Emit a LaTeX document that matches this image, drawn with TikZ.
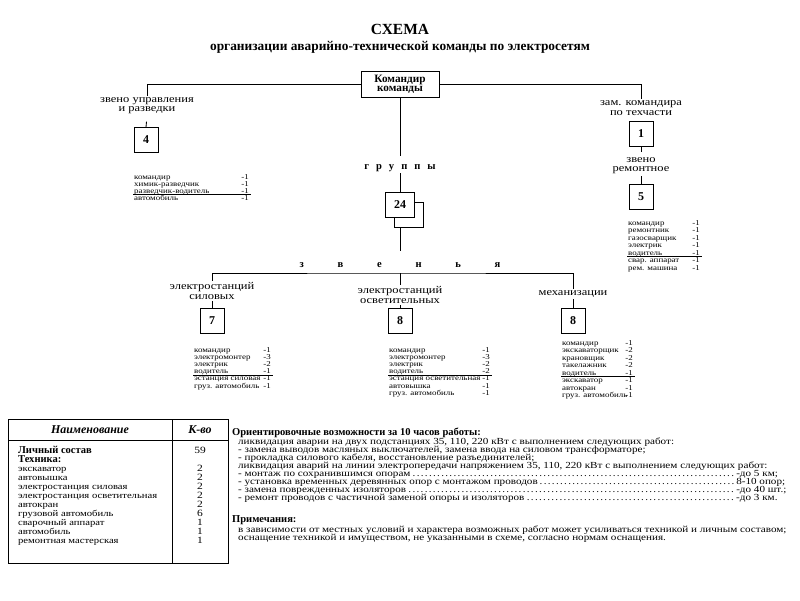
\documentclass[tikz,border=0pt]{standalone}
\usepackage{fontspec}
\setmainfont{Liberation Serif}
\newfontfamily\wide{Liberation Serif}[FakeStretch=1.2]
\usetikzlibrary{positioning}

\begin{document}
\begin{tikzpicture}[x=0.025cm, y=-0.025cm, line width=0.6pt,
  chief/.style ={draw, minimum width=1.95cm, minimum height=0.65cm, inner sep=1pt,
                 align=center, font=\fontsize{8}{6.5}\selectfont\bfseries},
  numbox/.style={draw, minimum width=0.6cm, minimum height=0.62cm, inner sep=0pt,
                 fill=white, font=\fontsize{8.5}{9}\selectfont\bfseries},
  unit/.style  ={align=center, inner sep=1pt, font=\wide\fontsize{7.4}{6.6}\selectfont},
  item/.style  ={anchor=base west, inner sep=0.5pt, font=\wide\fontsize{5.3}{5}\selectfont},
  qty/.style   ={anchor=base east, inner sep=0.5pt, font=\wide\fontsize{5.3}{5}\selectfont},
  tabtxt/.style={anchor=base west, inner sep=0.5pt, font=\wide\fontsize{6.3}{6}\selectfont},
  tabnum/.style={anchor=base, inner sep=0.5pt, font=\wide\fontsize{6.8}{6}\selectfont},
  txt/.style   ={anchor=west, inner sep=0.5pt, font=\wide\fontsize{6.6}{5.5}\selectfont},
  head/.style  ={anchor=west, inner sep=0.5pt, font=\fontsize{7.5}{7}\selectfont\bfseries},
  tick/.style  ={shorten <=4pt},
]
\useasboundingbox (0,0) rectangle (800,600);

% ============================ title =========================================
\node[font=\fontsize{11}{12}\selectfont\bfseries] (title) at (400,29) {СХЕМА};
\node[font=\fontsize{9.5}{10}\selectfont\bfseries] (sub) at (400,47)
     {организации аварийно-технической команды по электросетям};

% ============================ command level =================================
\node[chief] (cmd) at (400,84) {Командир\\команды};
\node[unit] (ctl) at (147,106) {звено управления\\и разведки};
\node[unit] (dep) at (641,108) {зам. командира\\по техчасти};
\draw (cmd.west) -| (ctl.north);
\draw (cmd.east) -| (dep.north);

\node[numbox] (n4) at (146,140) {4};
\draw[tick] (ctl.south) -- (n4.north);

\node[numbox] (n1) at (641,134) {1};
\node[unit] (rem) at (641,166) {звено\\ремонтное};
\node[numbox] (n5) at (641,197) {5};
\draw[shorten >=3pt] (n1.south) -- (rem.north);
\draw (rem.south) -- (n5.north);

% ============================ groups ========================================
\node[inner sep=1pt, font=\fontsize{7.5}{8}\selectfont\bfseries] (grp) at (400,168)
     {г\hspace{5pt}р\hspace{5pt}у\hspace{5pt}п\hspace{5pt}п\hspace{5pt}ы};
\node[numbox, minimum width=0.72cm] (n24b) at (409,215) {};
\node[numbox, minimum width=0.72cm] (n24) at (400,205) {24};
\draw[shorten >=5pt] (cmd.south) -- (grp.north);
\draw (grp.south) -- (n24.north);

\node[inner sep=1pt, font=\fontsize{7.5}{8}\selectfont\bfseries] (lnk) at (400,265)
     {з\hspace{24pt}в\hspace{24pt}е\hspace{24pt}н\hspace{24pt}ь\hspace{24pt}я};
\draw[shorten >=7pt] (n24b.south -| n24.south) -- (lnk.north);

% bracket over the three links
\coordinate (brk) at (400,273);
\node[unit] (sil) at (212,291) {электростанций\\силовых};
\node[unit] (osv) at (400,295) {электростанций\\осветительных};
\node[unit] (mex) at (573,294) {механизации};
\draw (sil.north) |- (brk) -| (mex.north);
\draw (brk) -- (osv.north);

\node[numbox] (n7)  at (212,321) {7};
\node[numbox] (n8a) at (400,321) {8};
\node[numbox] (n8b) at (573,321) {8};
\draw (sil.south) -- (n7.north);
\draw (osv.south) -- (n8a.north);
\draw (mex.south) -- (n8b.north);

% ============================ staff lists ===================================
\foreach \i/\t/\v in {0/командир/-1, 1/химик-разведчик/-1,
                      2/разведчик-водитель/-1, 3/автомобиль/-1} {
  \node[item] (la\i) at (133,{179+7*\i}) {\t};
  \node[qty]  (va\i) at (250,{179+7*\i}) {\v};
}
\draw ([yshift=-1.2pt]la2.base west) -- ([xshift=1pt,yshift=-1.2pt]va2.base east);

\foreach \i/\t/\v in {0/командир/-1, 1/ремонтник/-1, 2/газосварщик/-1, 3/электрик/-1,
                      4/водитель/-1, 5/свар. аппарат/-1, 6/рем. машина/-1} {
  \node[item] (lb\i) at (627,{225+7.5*\i}) {\t};
  \node[qty]  (vb\i) at (701,{225+7.5*\i}) {\v};
}
\draw ([yshift=-1.2pt]lb4.base west) -- ([xshift=1pt,yshift=-1.2pt]vb4.base east);

\foreach \i/\t/\v in {0/командир/-1, 1/электромонтер/-3, 2/электрик/-2, 3/водитель/-1,
                      4/эстанция силовая/-1, 5/груз. автомобиль/-1} {
  \node[item] (lc\i) at (193,{352+7.2*\i}) {\t};
  \node[qty]  (vc\i) at (272,{352+7.2*\i}) {\v};
}
\draw ([yshift=-1.2pt]lc3.base west) -- ([xshift=1pt,yshift=-1.2pt]vc3.base east);

\foreach \i/\t/\v in {0/командир/-1, 1/электромонтер/-3, 2/электрик/-2, 3/водитель/-2,
                      4/эстанция осветительная/-1, 5/автовышка/-1, 6/груз. автомобиль/-1} {
  \node[item] (ld\i) at (388,{352+7.2*\i}) {\t};
  \node[qty]  (vd\i) at (491,{352+7.2*\i}) {\v};
}
\draw ([yshift=-1.2pt]ld3.base west) -- ([xshift=1pt,yshift=-1.2pt]vd3.base east);

\foreach \i/\t/\v in {0/командир/-1, 1/экскаваторщик/-2, 2/крановщик/-2, 3/такелажник/-2,
                      4/водитель/-1, 5/экскаватор/-1, 6/автокран/-1, 7/груз. автомобиль/-1} {
  \node[item] (le\i) at (561,{345+7.5*\i}) {\t};
  \node[qty]  (ve\i) at (634,{345+7.5*\i}) {\v};
}
\draw ([yshift=-1.2pt]le4.base west) -- ([xshift=1pt,yshift=-1.2pt]ve4.base east);

% ============================ table =========================================
\draw (8,419) rectangle (228,563);
\draw (8,440) -- (228,440);
\draw (172,419) -- (172,563);
\node[font=\fontsize{8.5}{9}\selectfont\bfseries\itshape] (hname) at (90,430) {Наименование};
\node[font=\fontsize{8.5}{9}\selectfont\bfseries\itshape] (hqty)  at (200,430) {К-во};

\node[head] (rstaff) at (17,450) {Личный состав};
\node[tabnum, anchor=center] (qstaff) at (200,450) {59};
\node[head] (rtech) at (17,459) {Техника:};
\foreach \i/\t/\v in {0/экскаватор/2, 1/автовышка/2, 2/электростанция силовая/2,
                      3/электростанция осветительная/2, 4/автокран/2,
                      5/грузовой автомобиль/6, 6/сварочный аппарат/1,
                      7/автомобиль/1, 8/ремонтная мастерская/1} {
  \node[tabtxt] (r\i) at (17,{471+9.1*\i}) {\t};
  \node[tabnum] (q\i) at (200,{471+9.1*\i}) {\v};
}

% ============================ notes =========================================
\node[head] (cap) at (231,433) {Ориентировочные возможности за 10 часов работы:};
\node[txt] (w1) at (237,442) {ликвидация аварии на двух подстанциях 35, 110, 220 кВт с выполнением следующих работ:};
\node[txt] (w2) at (237,450) {- замена выводов масляных выключателей, замена ввода на силовом трансформаторе;};
\node[txt] (w3) at (237,458) {- прокладка силового кабеля, восстановление разъединителей;};
\node[txt] (w4) at (237,466) {ликвидация аварий на линии электропередачи напряжением 35, 110, 220 кВт с выполнением следующих работ:};
\node[txt] (w5) at (237,474) {\makebox[12.45cm][l]{- монтаж по сохранившимся опорам\dotfill}-до 5 км;};
\node[txt] (w6) at (237,482) {\makebox[12.45cm][l]{- установка временных деревянных опор с монтажом проводов\dotfill}8-10 опор;};
\node[txt] (w7) at (237,490) {\makebox[12.45cm][l]{- замена поврежденных изоляторов\dotfill}-до 40 шт.;};
\node[txt] (w8) at (237,498) {\makebox[12.45cm][l]{- ремонт проводов с частичной заменой опоры и изоляторов\dotfill}-до 3 км.};

\node[head] (ncap) at (231,520) {Примечания:};
\node[txt] (m1) at (237,530) {в зависимости от местных условий и характера возможных работ может усиливаться техникой и личным составом;};
\node[txt] (m2) at (237,538) {оснащение техникой и имуществом, не указанными в схеме, согласно нормам оснащения.};

\end{tikzpicture}
\end{document}
